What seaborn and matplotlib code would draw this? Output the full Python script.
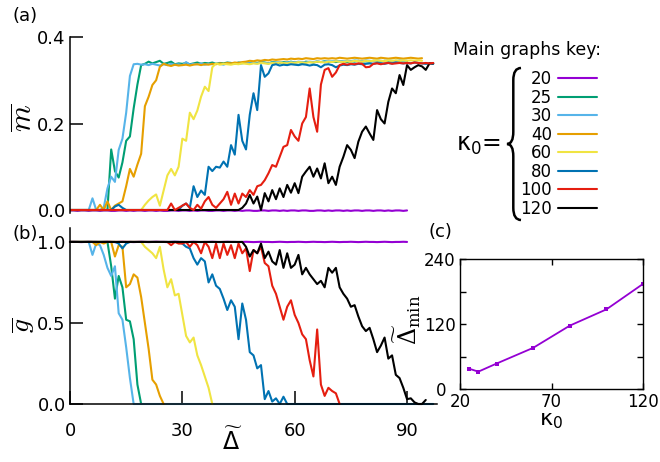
import numpy as np
import pandas as pd
import matplotlib
matplotlib.use('Agg')
import matplotlib.pyplot as plt
from matplotlib.lines import Line2D
from matplotlib.path import Path
from matplotlib.patches import PathPatch
from matplotlib.transforms import Affine2D, ScaledTranslation
import seaborn as sns

sns.set_theme(style='ticks')
plt.rcParams['font.family'] = ['DejaVu Sans']
plt.rcParams['mathtext.fontset'] = 'dejavusans'
for key in ['text.color', 'axes.labelcolor', 'xtick.color', 'ytick.color', 'axes.edgecolor']:
    plt.rcParams[key] = 'black'

KAPPAS = ['20', '25', '30', '40', '60', '80', '100', '120']
COLORS = ['#9400D3', '#009E73', '#56B4E9', '#E69F00', '#F0E442', '#0072B2', '#E51E10', '#000000']

# panel (a): m-bar vs Delta (Delta = 0, 1, 2, ...)
M_20 = [-0.001, -0.001, -0.002, -0.001, -0.001, -0.002, -0.001, -0.001, -0.002, -0.001,
        -0.001, -0.002, -0.002, -0.001, -0.001, -0.002, -0.001, -0.002, -0.001, -0.001,
        -0.002, -0.001, -0.001, -0.002, -0.001, -0.002, -0.002, -0.001, -0.001, -0.002,
        -0.001, -0.001, -0.002, -0.001, -0.002, -0.001, -0.001, -0.002, -0.002, -0.001,
        -0.001, -0.002, -0.001, -0.001, -0.002, -0.001, -0.002, -0.001, -0.001, -0.002,
        -0.002, -0.001, -0.001, -0.002, -0.001, -0.001, -0.002, -0.001, -0.002, -0.001,
        -0.001, -0.002, -0.001, -0.001, -0.002, -0.002, -0.001, -0.001, -0.002, -0.001,
        -0.002, -0.001, -0.001, -0.002, -0.001, -0.002, -0.001, -0.001, -0.002, -0.001,
        -0.001, -0.002, -0.001, -0.001, -0.002, -0.001, -0.002, -0.001, -0.001, -0.002,
        -0.001]
M_25 = [0.000, 0.000, 0.000, 0.000, 0.000, 0.000, 0.000, 0.000, 0.000, 0.000,
        0.000, 0.140, 0.090, 0.075, 0.110, 0.160, 0.170, 0.235, 0.290, 0.335,
        0.338, 0.343, 0.339, 0.342, 0.345, 0.338, 0.340, 0.343, 0.337, 0.339,
        0.338, 0.340, 0.337, 0.339, 0.341, 0.338, 0.340, 0.339, 0.341, 0.338,
        0.340, 0.339, 0.341, 0.340, 0.338, 0.341, 0.340, 0.342, 0.339, 0.341,
        0.340, 0.342, 0.341, 0.339, 0.342, 0.341, 0.340, 0.342, 0.341, 0.343,
        0.341, 0.342, 0.340, 0.343, 0.342, 0.341, 0.343, 0.342, 0.344, 0.342,
        0.343, 0.342, 0.344, 0.343, 0.342, 0.344, 0.343, 0.345, 0.343, 0.344,
        0.343, 0.345, 0.344, 0.343, 0.345, 0.344, 0.343, 0.345, 0.344, 0.345,
        0.344]
M_30 = [0.000, 0.000, 0.000, 0.000, 0.000, 0.000, 0.027, 0.000, 0.000, 0.005,
        0.050, 0.077, 0.065, 0.139, 0.165, 0.225, 0.310, 0.337, 0.338, 0.336,
        0.337, 0.335, 0.338, 0.336, 0.334, 0.337, 0.335, 0.338, 0.336, 0.337,
        0.335, 0.342, 0.336, 0.338, 0.337, 0.339, 0.336, 0.338, 0.337, 0.339,
        0.338, 0.336, 0.339, 0.338, 0.340, 0.338, 0.339, 0.341, 0.339, 0.340,
        0.339, 0.341, 0.340, 0.339, 0.341, 0.340, 0.342, 0.340, 0.341, 0.342,
        0.341, 0.343, 0.342, 0.341, 0.343, 0.342, 0.344, 0.342, 0.343, 0.344,
        0.343, 0.345, 0.344, 0.343, 0.345, 0.344, 0.346, 0.345, 0.344, 0.346,
        0.345, 0.344, 0.346, 0.345, 0.344, 0.346, 0.345, 0.344, 0.346, 0.345,
        0.345]
M_40 = [0.000, 0.000, 0.000, 0.000, 0.000, 0.000, 0.000, 0.000, 0.012, 0.000,
        0.020, 0.000, 0.010, 0.015, 0.020, 0.055, 0.095, 0.077, 0.105, 0.130,
        0.240, 0.262, 0.289, 0.300, 0.331, 0.338, 0.335, 0.333, 0.336, 0.334,
        0.335, 0.336, 0.334, 0.336, 0.337, 0.335, 0.337, 0.336, 0.338, 0.337,
        0.339, 0.338, 0.340, 0.339, 0.341, 0.340, 0.342, 0.343, 0.345, 0.344,
        0.346, 0.345, 0.347, 0.346, 0.348, 0.347, 0.348, 0.349, 0.348, 0.350,
        0.349, 0.350, 0.349, 0.351, 0.350, 0.349, 0.351, 0.350, 0.351, 0.350,
        0.351, 0.350, 0.352, 0.351, 0.350, 0.351, 0.352, 0.351, 0.350, 0.351,
        0.352, 0.351, 0.350, 0.352, 0.351, 0.350, 0.351, 0.352, 0.351, 0.350,
        0.351, 0.352, 0.351, 0.350, 0.351]
M_60 = [0.000, 0.000, 0.000, 0.000, 0.000, 0.000, 0.000, 0.000, 0.000, 0.000,
        0.000, 0.000, 0.000, 0.000, 0.000, 0.000, 0.000, 0.000, 0.000, 0.000,
        0.012, 0.022, 0.030, 0.036, 0.010, 0.045, 0.080, 0.095, 0.080, 0.100,
        0.165, 0.160, 0.225, 0.210, 0.230, 0.262, 0.285, 0.275, 0.330, 0.339,
        0.336, 0.338, 0.337, 0.336, 0.338, 0.337, 0.339, 0.338, 0.337, 0.339,
        0.338, 0.340, 0.339, 0.338, 0.340, 0.339, 0.341, 0.340, 0.339, 0.341,
        0.340, 0.342, 0.341, 0.340, 0.342, 0.341, 0.343, 0.342, 0.341, 0.343,
        0.342, 0.344, 0.343, 0.342, 0.344, 0.343, 0.345, 0.344, 0.343, 0.345,
        0.344, 0.345, 0.346, 0.345, 0.344, 0.346, 0.345, 0.346, 0.345, 0.346,
        0.345, 0.346, 0.345, 0.346, 0.345]
M_80 = [0.000, 0.000, 0.000, 0.000, 0.000, 0.000, 0.000, 0.000, 0.000, 0.000,
        0.000, 0.000, 0.008, 0.012, 0.005, 0.000, 0.000, 0.000, 0.000, 0.000,
        0.000, 0.000, 0.000, 0.000, 0.000, 0.000, 0.000, 0.000, 0.000, 0.000,
        0.010, 0.015, 0.005, 0.055, 0.030, 0.045, 0.035, 0.100, 0.090, 0.100,
        0.098, 0.112, 0.100, 0.150, 0.128, 0.220, 0.160, 0.140, 0.220, 0.270,
        0.231, 0.335, 0.308, 0.316, 0.335, 0.337, 0.334, 0.336, 0.335, 0.337,
        0.336, 0.335, 0.337, 0.336, 0.334, 0.336, 0.335, 0.330, 0.336, 0.337,
        0.335, 0.330, 0.334, 0.336, 0.335, 0.337, 0.336, 0.338, 0.337, 0.338,
        0.339, 0.338, 0.340, 0.339, 0.338, 0.340, 0.339, 0.341, 0.340, 0.339,
        0.340, 0.339, 0.341, 0.340, 0.339, 0.338, 0.339, 0.338]
M_100 = [0.000, 0.000, 0.000, 0.000, 0.000, 0.000, 0.000, 0.000, 0.000, 0.000,
         0.000, 0.000, 0.000, 0.000, 0.000, 0.000, 0.000, 0.000, 0.000, 0.000,
         0.000, 0.000, 0.000, 0.000, 0.000, 0.000, 0.000, 0.015, 0.000, 0.005,
         0.010, 0.015, 0.005, 0.000, 0.012, 0.003, 0.020, 0.030, 0.012, 0.005,
         0.015, 0.025, 0.042, 0.012, 0.038, 0.015, 0.038, 0.030, 0.046, 0.035,
         0.055, 0.058, 0.069, 0.085, 0.104, 0.100, 0.123, 0.146, 0.150, 0.185,
         0.170, 0.160, 0.200, 0.215, 0.281, 0.215, 0.181, 0.290, 0.324, 0.328,
         0.308, 0.318, 0.335, 0.338, 0.336, 0.338, 0.337, 0.339, 0.338, 0.330,
         0.331, 0.338, 0.339, 0.337, 0.339, 0.340, 0.338, 0.339, 0.340, 0.339,
         0.340, 0.339, 0.341, 0.340, 0.339, 0.340, 0.339, 0.340]
M_120 = [0.000, 0.000, 0.000, 0.000, 0.000, 0.000, 0.000, 0.000, 0.000, 0.000,
         0.000, 0.000, 0.000, 0.000, 0.000, 0.000, 0.000, 0.000, 0.000, 0.000,
         0.000, 0.000, 0.000, 0.000, 0.000, 0.000, 0.000, 0.000, 0.000, 0.000,
         0.000, 0.000, 0.000, 0.000, 0.000, 0.000, 0.000, 0.000, 0.000, 0.000,
         0.000, 0.000, 0.000, 0.000, 0.000, 0.000, 0.005, 0.015, 0.035, 0.015,
         0.031, 0.000, 0.039, 0.020, 0.046, 0.025, 0.050, 0.030, 0.058, 0.040,
         0.062, 0.039, 0.077, 0.089, 0.100, 0.077, 0.096, 0.073, 0.108, 0.062,
         0.077, 0.058, 0.100, 0.123, 0.150, 0.139, 0.120, 0.158, 0.181, 0.193,
         0.177, 0.162, 0.231, 0.210, 0.200, 0.250, 0.281, 0.270, 0.312, 0.289,
         0.335, 0.324, 0.330, 0.335, 0.332, 0.324, 0.339, 0.339]

# panel (b): g-bar vs Delta
G_20 = [1.000, 1.001, 1.000, 0.999, 1.000, 1.001, 1.000, 1.000, 0.999, 1.000,
        1.001, 1.000, 0.999, 1.000, 1.001, 1.000, 1.000, 0.999, 1.000, 1.001,
        1.000, 0.999, 1.000, 1.001, 1.000, 1.000, 0.999, 1.000, 1.001, 1.000,
        1.000, 0.999, 1.000, 1.001, 1.000, 0.999, 1.000, 1.000, 1.001, 1.000,
        0.999, 1.000, 1.001, 1.000, 1.000, 0.999, 1.000, 1.001, 1.000, 0.999,
        1.000, 1.001, 1.000, 1.000, 0.999, 1.000, 1.001, 1.000, 0.999, 1.000,
        1.000, 1.001, 1.000, 0.999, 1.000, 1.001, 1.000, 1.000, 0.999, 1.000,
        1.001, 1.000, 0.999, 1.000, 1.000, 1.001, 1.000, 0.999, 1.000, 1.001,
        1.000, 1.000, 0.999, 1.000, 1.001, 1.000, 0.999, 1.000, 1.000, 1.001,
        1.000]
G_25 = [1.00, 1.00, 1.00, 1.00, 1.00, 1.00, 1.00, 1.00, 1.00, 1.00,
        1.00, 0.85, 0.65, 0.79, 0.72, 0.52, 0.51, 0.40, 0.12, 0.00]
G_30 = [1.00, 1.00, 1.00, 1.00, 1.00, 1.00, 0.92, 0.99, 0.98, 0.92,
        0.84, 0.79, 0.85, 0.56, 0.52, 0.35, 0.16, 0.00, 0.00, 0.00,
        0.00, 0.00, 0.00, 0.00, 0.00, 0.00, 0.00, 0.00, 0.00, 0.00,
        0.00, 0.00, 0.00, 0.00, 0.00, 0.00, 0.00, 0.00, 0.00, 0.00,
        0.00, 0.00, 0.00, 0.00, 0.00, 0.00, 0.00, 0.00, 0.00, 0.00,
        0.00, 0.00, 0.00, 0.00, 0.00, 0.00, 0.00, 0.00, 0.00]
G_40 = [1.00, 1.00, 1.00, 1.00, 1.00, 1.00, 1.00, 0.98, 1.00, 0.99,
        1.00, 1.00, 0.91, 0.98, 0.97, 0.72, 0.74, 0.80, 0.78, 0.66,
        0.50, 0.34, 0.15, 0.12, 0.05, 0.00]
G_60 = [1.00, 1.00, 1.00, 1.00, 1.00, 1.00, 1.00, 1.00, 1.00, 1.00,
        1.00, 1.00, 1.00, 1.00, 1.00, 1.00, 1.00, 1.00, 1.00, 1.00,
        0.97, 0.95, 0.93, 0.90, 0.97, 0.83, 0.72, 0.77, 0.67, 0.68,
        0.55, 0.42, 0.38, 0.41, 0.30, 0.24, 0.17, 0.10, 0.00]
G_80 = [1.00, 1.00, 1.00, 1.00, 1.00, 1.00, 1.00, 1.00, 1.00, 1.00,
        1.00, 1.00, 1.00, 0.99, 0.96, 0.99, 1.00, 1.00, 1.00, 1.00,
        1.00, 1.00, 1.00, 1.00, 1.00, 1.00, 1.00, 1.00, 1.00, 1.00,
        0.99, 0.97, 0.96, 0.90, 0.86, 0.90, 0.88, 0.75, 0.80, 0.73,
        0.71, 0.65, 0.58, 0.64, 0.60, 0.40, 0.62, 0.52, 0.32, 0.30,
        0.22, 0.24, 0.03, 0.08, 0.015, 0.035, 0.00, 0.045, 0.00, 0.00,
        0.00, 0.00, 0.00, 0.00, 0.00, 0.00, 0.00, 0.00, 0.00, 0.00,
        0.00, 0.00, 0.00, 0.00, 0.00, 0.00, 0.00, 0.00, 0.00, 0.00,
        0.00, 0.00, 0.00, 0.00, 0.00, 0.00, 0.00, 0.00, 0.00, 0.00,
        0.00, 0.00, 0.00, 0.00, 0.00, 0.00, 0.00, 0.00]
G_100 = [1.00, 1.00, 1.00, 1.00, 1.00, 1.00, 1.00, 1.00, 1.00, 1.00,
         1.00, 1.00, 1.00, 1.00, 1.00, 1.00, 1.00, 1.00, 1.00, 1.00,
         1.00, 1.00, 1.00, 1.00, 1.00, 1.00, 1.00, 0.98, 1.00, 0.99,
         0.99, 1.00, 0.97, 1.00, 0.98, 0.93, 1.00, 0.97, 0.90, 0.99,
         0.90, 0.99, 0.92, 0.98, 0.90, 0.99, 0.93, 0.96, 0.82, 0.95,
         0.93, 0.97, 0.87, 0.85, 0.73, 0.68, 0.60, 0.52, 0.60, 0.64,
         0.55, 0.50, 0.43, 0.40, 0.27, 0.17, 0.46, 0.12, 0.05, 0.10,
         0.08, 0.066, 0.00]
G_120 = [1.00, 1.00, 1.00, 1.00, 1.00, 1.00, 1.00, 1.00, 1.00, 1.00,
         1.00, 1.00, 1.00, 1.00, 1.00, 1.00, 1.00, 1.00, 1.00, 1.00,
         1.00, 1.00, 1.00, 1.00, 1.00, 1.00, 1.00, 1.00, 1.00, 1.00,
         1.00, 1.00, 1.00, 1.00, 1.00, 1.00, 1.00, 1.00, 1.00, 1.00,
         1.00, 1.00, 1.00, 1.00, 1.00, 1.00, 1.00, 0.97, 0.91, 0.95,
         0.93, 0.99, 0.90, 0.94, 0.88, 0.86, 0.95, 0.84, 0.93, 0.84,
         0.86, 0.92, 0.80, 0.84, 0.80, 0.77, 0.74, 0.76, 0.72, 0.84,
         0.81, 0.84, 0.72, 0.68, 0.65, 0.60, 0.61, 0.54, 0.48, 0.45,
         0.47, 0.40, 0.32, 0.36, 0.41, 0.28, 0.30, 0.18, 0.16, 0.10,
         0.03, 0.035, 0.01, 0.00, 0.00, 0.025]

# panel (c): minimal Delta vs kappa_0
K0_C = [25, 30, 40, 60, 80, 100, 120]
DMIN_C = [37.5, 32, 47, 76, 117, 147, 194]


def long_frame(series, name):
    parts = []
    for k, vals in zip(KAPPAS, series):
        parts.append(pd.DataFrame({'delta': np.arange(len(vals)), name: vals, 'kappa': k}))
    return pd.concat(parts, ignore_index=True)


df_a = long_frame([M_20, M_25, M_30, M_40, M_60, M_80, M_100, M_120], 'm')
df_b = long_frame([G_20, G_25, G_30, G_40, G_60, G_80, G_100, G_120], 'g')
palette = dict(zip(KAPPAS, COLORS))

fig = plt.figure(figsize=(6.6, 4.62), dpi=100)
ax_a = fig.add_axes([70 / 660, 1 - 212.6 / 462, 367 / 660, (212.6 - 37) / 462])
ax_b = fig.add_axes([70 / 660, 1 - 404 / 462, 367 / 660, (404 - 228) / 462])
ax_c = fig.add_axes([460 / 660, 1 - 389 / 462, 183 / 660, 130 / 462])

# (a) -- black drawn under red here
order_a = ['20', '25', '30', '40', '60', '80', '120', '100']
sns.lineplot(data=df_a, x='delta', y='m', hue='kappa', hue_order=order_a,
             palette=palette, estimator=None, legend=False, lw=1.5, ax=ax_a)
ax_a.set_xlim(0, 98)
ax_a.set_ylim(-0.006, 0.4)
ax_a.set_yticks([0, 0.2, 0.4])
ax_a.set_yticklabels(['0.0', '0.2', '0.4'])
ax_a.set_xlabel('')
ax_a.set_ylabel('')
for s in ['top', 'right', 'bottom']:
    ax_a.spines[s].set_visible(False)
ax_a.spines['left'].set_linewidth(1.1)
ax_a.tick_params(axis='y', direction='in', length=9.5, width=1.1, labelsize=13, pad=3)
ax_a.tick_params(axis='x', bottom=False, labelbottom=False)

# (b)
sns.lineplot(data=df_b, x='delta', y='g', hue='kappa', hue_order=KAPPAS,
             palette=palette, estimator=None, legend=False, lw=1.5, ax=ax_b,
             clip_on=False)
ax_b.set_xlim(0, 98)
ax_b.set_ylim(0, 1.086)
ax_b.set_yticks([0, 0.5, 1.0])
ax_b.set_yticklabels(['0.0', '0.5', '1.0'])
ax_b.set_xticks([0, 30, 60, 90])
ax_b.set_xlabel('')
ax_b.set_ylabel('')
for s in ['top', 'right']:
    ax_b.spines[s].set_visible(False)
for s in ['left', 'bottom']:
    ax_b.spines[s].set_linewidth(1.1)
ax_b.tick_params(axis='y', direction='in', length=9.5, width=1.1, labelsize=13, pad=3)
ax_b.tick_params(axis='x', direction='in', length=9.5, width=1.1, labelsize=13, pad=13)

# (c)
sns.lineplot(x=K0_C, y=DMIN_C, ax=ax_c, color='#9400D3', lw=1.3, marker='s',
             markersize=3.5, markeredgewidth=0)
ax_c.set_xlim(20, 120)
ax_c.set_ylim(0, 240)
ax_c.set_xticks([20, 70, 120])
ax_c.set_yticks([0, 60, 120, 180, 240])
ax_c.set_yticklabels(['0', '', '120', '', '240'])
for s in ax_c.spines.values():
    s.set_linewidth(1.0)
ax_c.tick_params(direction='in', top=True, right=True, length=4, width=1,
                 labelsize=12, pad=3)
ax_c.set_xlabel('κ$_0$', fontsize=16, labelpad=0)
ax_c.set_ylabel('')
# the zero label sits a little further left, clear of the "20"
zero_lab = ax_c.yaxis.get_major_ticks()[0].label1
zero_lab.set_transform(zero_lab.get_transform() + ScaledTranslation(-0.09, 0, fig.dpi_scale_trans))

# labels
fig.text(25 / 660, 1 - 16 / 462, '(a)', fontsize=13, ha='center', va='center')
fig.text(25 / 660, 1 - 234 / 462, '(b)', fontsize=13, ha='center', va='center')
fig.text(440 / 660, 1 - 232 / 462, '(c)', fontsize=13, ha='center', va='center')
fig.text(24 / 660, 1 - 118 / 462, r'$\overline{m}$', fontsize=22, rotation=90,
         ha='center', va='center', math_fontfamily='cm')
fig.text(23 / 660, 1 - 325 / 462, r'$\overline{g}$', fontsize=20, rotation=90,
         ha='center', va='center', math_fontfamily='cm')
fig.text(232 / 660, 1 - 441 / 462, r'$\widetilde{\Delta}$', fontsize=17,
         ha='center', va='center')
fig.text(407 / 660, 1 - 320 / 462, r'$\widetilde{\Delta}_{\mathrm{min}}$', fontsize=17,
         rotation=90, ha='center', va='center', math_fontfamily='dejavuserif')

# key
fig.text(527 / 660, 1 - 50 / 462, 'Main graphs key:', fontsize=12.5, ha='center', va='center')
fig.text(456 / 660, 1 - 145 / 462, 'κ$_0$=', fontsize=17, ha='left', va='center')
handles = [Line2D([], [], color=c, lw=1.5) for c in COLORS]
fig.legend(handles, KAPPAS, loc='center right', bbox_to_anchor=(597 / 660, 1 - 144 / 462),
           bbox_transform=fig.transFigure, frameon=False, markerfirst=False,
           handlelength=2.35, handletextpad=0.36, labelspacing=0.03,
           borderpad=0, borderaxespad=0, fontsize=12)

brace = Path([(1, 1), (0.45, 1), (0.45, 0.92), (0.45, 0.58), (0.45, 0.5), (0, 0.5),
              (0.45, 0.5), (0.45, 0.42), (0.45, 0.08), (0.45, 0), (1, 0)],
             [Path.MOVETO, Path.CURVE3, Path.CURVE3, Path.LINETO, Path.CURVE3, Path.CURVE3,
              Path.CURVE3, Path.CURVE3, Path.LINETO, Path.CURVE3, Path.CURVE3])
tr = Affine2D().scale(14 / 660, 152 / 462).translate(507 / 660, 1 - 220 / 462) + fig.transFigure
fig.patches.append(PathPatch(brace, fill=False, lw=1.8, color='black', transform=tr))

fig.savefig('out.png', dpi=100)
